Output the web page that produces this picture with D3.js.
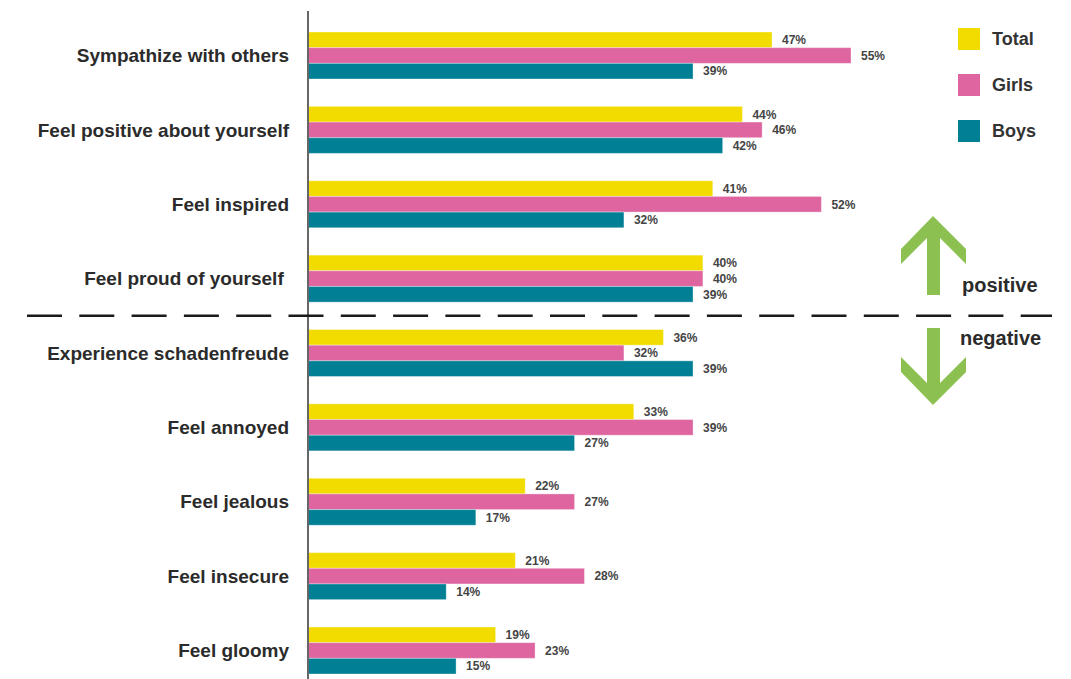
<!DOCTYPE html>
<html>
<head>
<meta charset="utf-8">
<script src="https://cdn.jsdelivr.net/npm/d3@7"></script>
<style>
  html, body { margin: 0; padding: 0; background: #fff; }
  svg { display: block; font-family: "Liberation Sans", Arial, sans-serif; }
</style>
</head>
<body>
<div id="chart"></div>
<script>
const categories = [
  'Sympathize with others',
  'Feel positive about yourself',
  'Feel inspired',
  'Feel proud of yourself ',
  'Experience schadenfreude',
  'Feel annoyed',
  'Feel jealous',
  'Feel insecure',
  'Feel gloomy',
];
const series = ['Total', 'Girls', 'Boys'];
const totalValues = [47, 44, 41, 40, 36, 33, 22, 21, 19];
const girlsValues = [55, 46, 52, 40, 32, 39, 27, 28, 23];
const boysValues = [39, 42, 32, 39, 39, 27, 17, 14, 15];
const colors = ['#f2dc00', '#de65a0', '#007f95'];

const width = 1071;
const height = 679;
const axisX = 308;

const rows = categories.map((c, i) => ({
  category: c,
  values: [totalValues[i], girlsValues[i], boysValues[i]],
}));

const svg = d3.select('#chart')
  .append('svg')
  .attr('width', width)
  .attr('height', height);

const x = d3.scaleLinear()
  .domain([0, 55])
  .range([axisX, 851]);

const y = d3.scaleBand()
  .domain(categories)
  .range([32, 674])
  .paddingInner(0.368)
  .paddingOuter(0);

const ySub = d3.scaleBand()
  .domain(series)
  .range([0, y.bandwidth()]);

// bars
const groups = svg.append('g')
  .selectAll('g')
  .data(rows)
  .join('g')
  .attr('transform', d => `translate(0, ${y(d.category)})`);

groups.selectAll('rect')
  .data(d => d.values.map((v, k) => ({ key: series[k], value: v, k })))
  .join('rect')
  .attr('x', x(0))
  .attr('y', d => ySub(d.key))
  .attr('width', d => x(d.value) - x(0))
  .attr('height', ySub.bandwidth())
  .attr('fill', d => colors[d.k])
  .attr('stroke', '#ffffff')
  .attr('stroke-opacity', 0.35)
  .attr('stroke-width', 1);

groups.selectAll('text')
  .data(d => d.values.map((v, k) => ({ key: series[k], value: v })))
  .join('text')
  .attr('x', d => x(d.value) + 10)
  .attr('y', d => ySub(d.key) + ySub.bandwidth() / 2)
  .attr('dy', '0.36em')
  .attr('font-size', 12)
  .attr('font-weight', 'bold')
  .attr('fill', '#444')
  .text(d => `${d.value}%`);

// category labels
svg.append('g')
  .selectAll('text')
  .data(categories)
  .join('text')
  .attr('x', axisX - 19)
  .attr('y', d => y(d) + y.bandwidth() / 2)
  .attr('dy', '0.35em')
  .attr('text-anchor', 'end')
  .attr('font-size', 19)
  .attr('font-weight', 'bold')
  .attr('fill', '#2b2b2b')
  .style('white-space', 'pre')
  .text(d => d);

// vertical axis line
svg.append('line')
  .attr('x1', axisX)
  .attr('x2', axisX)
  .attr('y1', 11)
  .attr('y2', height)
  .attr('stroke', '#666')
  .attr('stroke-width', 2);

// positive / negative divider
const dividerY = (y(categories[3]) + y.bandwidth() + y(categories[4])) / 2;
svg.append('line')
  .attr('x1', 27)
  .attr('x2', 1052)
  .attr('y1', dividerY)
  .attr('y2', dividerY)
  .attr('stroke', '#1a1a1a')
  .attr('stroke-width', 2.5)
  .attr('stroke-dasharray', '35 17.3');

// legend
const legend = svg.append('g')
  .attr('transform', 'translate(958, 28)');

const legendItems = legend.selectAll('g')
  .data(series)
  .join('g')
  .attr('transform', (d, i) => `translate(0, ${i * 46})`);

legendItems.append('rect')
  .attr('width', 22)
  .attr('height', 22)
  .attr('fill', (d, i) => colors[i]);

legendItems.append('text')
  .attr('x', 34)
  .attr('y', 11)
  .attr('dy', '0.36em')
  .attr('font-size', 18)
  .attr('font-weight', 'bold')
  .attr('fill', '#333')
  .text(d => d);

// arrows
const green = '#8cc152';
const upArrow = [
  [933, 216], [966, 249], [966, 264], [940, 238], [940, 295],
  [927, 295], [927, 238], [901, 264], [901, 249],
];
const downArrow = [
  [933, 405], [966, 372], [966, 357], [940, 383], [940, 328],
  [927, 328], [927, 383], [901, 357], [901, 372],
];
svg.append('path')
  .attr('d', d3.line()(upArrow) + 'Z')
  .attr('fill', green);
svg.append('path')
  .attr('d', d3.line()(downArrow) + 'Z')
  .attr('fill', green);

svg.append('text')
  .attr('x', 962)
  .attr('y', 292)
  .attr('font-size', 20)
  .attr('font-weight', 'bold')
  .attr('fill', '#2b2b2b')
  .text('positive');

svg.append('text')
  .attr('x', 960)
  .attr('y', 345)
  .attr('font-size', 20)
  .attr('font-weight', 'bold')
  .attr('fill', '#2b2b2b')
  .text('negative');
</script>
</body>
</html>
